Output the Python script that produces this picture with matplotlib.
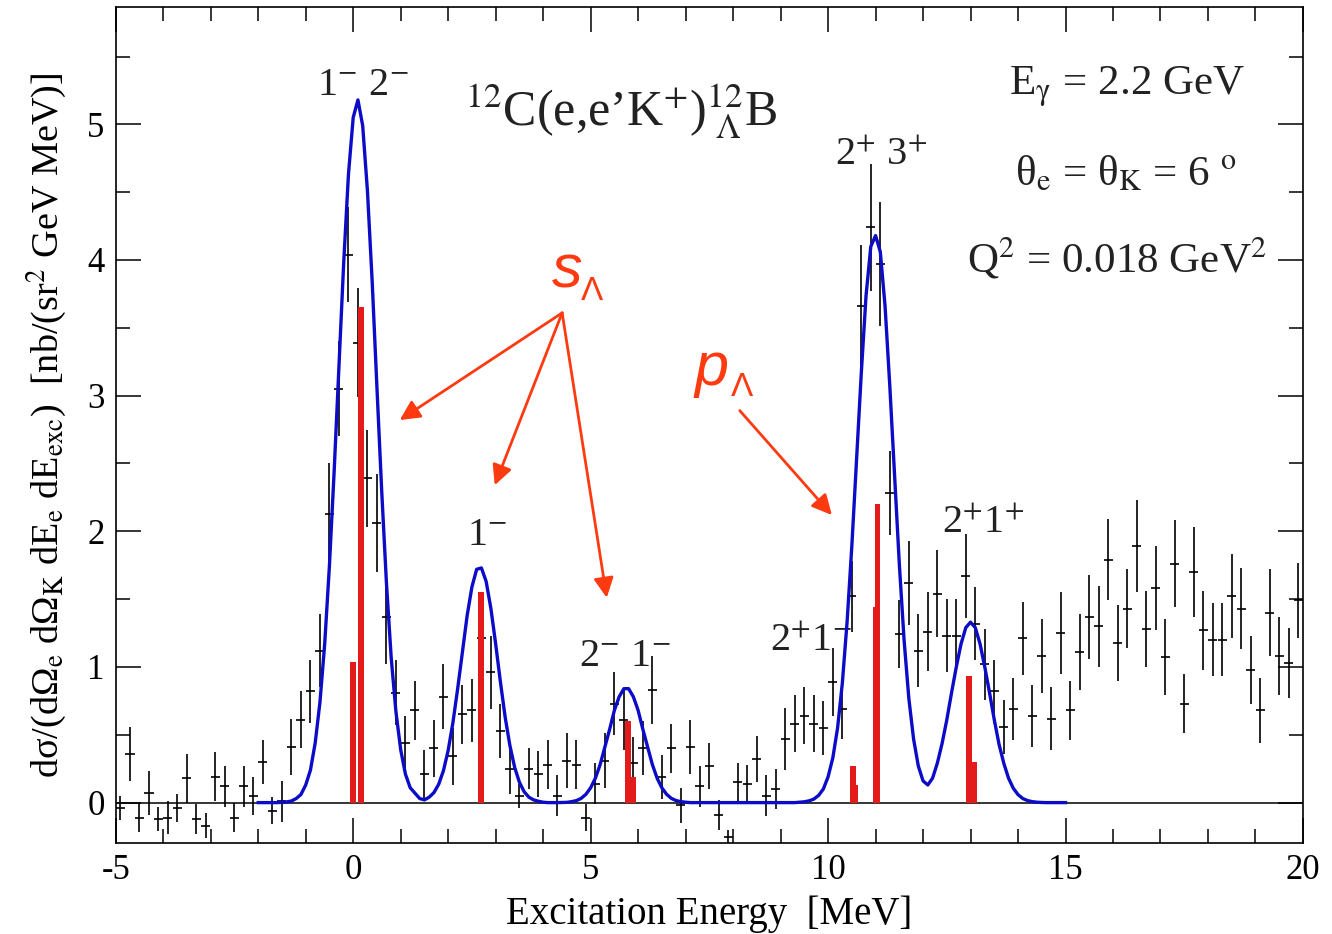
import matplotlib
matplotlib.use("Agg")
import matplotlib.pyplot as plt

plt.rcParams['font.family'] = ['Liberation Serif', 'DejaVu Serif']
plt.rcParams['mathtext.fontset'] = 'stix'
plt.rcParams['axes.unicode_minus'] = False

# ---------------- data ----------------
data_x = [-4.9, -4.7, -4.5, -4.3, -4.1, -3.9, -3.7, -3.5, -3.3, -3.1,
          -2.9, -2.7, -2.5, -2.3, -2.1, -1.9, -1.7, -1.5, -1.3, -1.1,
          -0.9, -0.7, -0.5, -0.3, -0.1, 0.1, 0.3, 0.5, 0.7, 0.9,
          1.1, 1.3, 1.5, 1.7, 1.9, 2.1, 2.3, 2.5, 2.7, 2.9,
          3.1, 3.3, 3.5, 3.7, 3.9, 4.1, 4.3, 4.5, 4.7, 4.9,
          5.1, 5.3, 5.5, 5.7, 5.9, 6.1, 6.3, 6.5, 6.7, 6.9,
          7.1, 7.3, 7.5, 7.7, 7.9, 8.1, 8.3, 8.5, 8.7, 8.9,
          9.1, 9.3, 9.5, 9.7, 9.9, 10.1, 10.3, 10.5, 10.7, 10.9,
          11.1, 11.3, 11.5, 11.7, 11.9, 12.1, 12.3, 12.5, 12.7, 12.9,
          13.1, 13.3, 13.5, 13.7, 13.9, 14.1, 14.3, 14.5, 14.7, 14.9,
          15.1, 15.3, 15.5, 15.7, 15.9, 16.1, 16.3, 16.5, 16.7, 16.9,
          17.1, 17.3, 17.5, 17.7, 17.9, 18.1, 18.3, 18.5, 18.7, 18.9,
          19.1, 19.3, 19.5, 19.7, 19.9]
data_y = [-0.04, 0.36, -0.11, 0.07, -0.12, -0.11, -0.04, 0.18, -0.12, -0.17,
          0.19, 0.12, -0.11, 0.12, 0.05, 0.30, -0.06, 0.01, 0.41, 0.61,
          0.82, 1.12, 2.13, 3.05, 4.04, 3.39, 2.39, 2.06, 1.37, 0.81,
          0.44, 0.68, 0.21, 0.40, 0.78, 0.34, 0.65, 0.68, 1.21, 0.96,
          0.53, 0.25, 0.05, 0.25, 0.21, 0.28, 0.05, 0.31, 0.28, -0.11,
          0.14, 0.31, 0.73, 0.61, 0.29, 0.40, 0.83, 0.19, 0.40, -0.02,
          0.41, 0.12, 0.27, -0.09, -0.25, 0.15, 0.14, 0.32, 0.05, 0.10,
          0.47, 0.58, 0.64, 0.58, 0.55, 0.89, 0.69, 1.52, 3.66, 4.24,
          3.97, 2.28, 1.24, 1.62, 1.12, 1.26, 1.54, 1.23, 1.23, 1.67,
          1.32, 1.02, 0.82, 0.56, 0.69, 1.21, 0.64, 1.08, 0.62, 1.25,
          0.68, 1.11, 1.37, 1.30, 1.79, 1.18, 1.43, 1.89, 1.28, 1.58,
          1.07, 1.76, 0.73, 1.70, 1.27, 1.20, 1.20, 1.52, 1.43, 0.98,
          0.68, 1.40, 1.08, 1.03, 1.49]
data_err = [0.09, 0.20, 0.11, 0.16, 0.09, 0.12, 0.10, 0.18, 0.11, 0.09,
            0.18, 0.15, 0.11, 0.15, 0.14, 0.16, 0.10, 0.15, 0.21, 0.21,
            0.23, 0.27, 0.37, 0.35, 0.35, 0.40, 0.36, 0.36, 0.35, 0.24,
            0.20, 0.22, 0.18, 0.21, 0.24, 0.21, 0.22, 0.23, 0.27, 0.27,
            0.20, 0.19, 0.09, 0.15, 0.17, 0.18, 0.15, 0.20, 0.18, 0.10,
            0.15, 0.20, 0.23, 0.22, 0.19, 0.20, 0.25, 0.16, 0.18, 0.13,
            0.20, 0.15, 0.17, 0.11, 0.05, 0.14, 0.14, 0.17, 0.15, 0.15,
            0.23, 0.21, 0.21, 0.21, 0.20, 0.25, 0.22, 0.26, 0.45, 0.47,
            0.46, 0.31, 0.25, 0.31, 0.27, 0.29, 0.32, 0.27, 0.27, 0.31,
            0.27, 0.26, 0.23, 0.20, 0.23, 0.27, 0.23, 0.27, 0.23, 0.30,
            0.22, 0.28, 0.31, 0.30, 0.30, 0.28, 0.29, 0.34, 0.28, 0.31,
            0.28, 0.32, 0.22, 0.33, 0.29, 0.27, 0.27, 0.31, 0.30, 0.25,
            0.24, 0.32, 0.29, 0.26, 0.28]

curve_x = [-2.0, -1.9, -1.8, -1.7, -1.6, -1.5, -1.4, -1.3, -1.2, -1.1,
           -1.0, -0.9, -0.8, -0.7, -0.6, -0.5, -0.4, -0.3, -0.2, -0.1,
           0.0, 0.1, 0.2, 0.3, 0.4, 0.5, 0.6, 0.7, 0.8, 0.9,
           1.0, 1.1, 1.2, 1.3, 1.4, 1.5, 1.6, 1.7, 1.8, 1.9,
           2.0, 2.1, 2.2, 2.3, 2.4, 2.5, 2.6, 2.7, 2.8, 2.9,
           3.0, 3.1, 3.2, 3.3, 3.4, 3.5, 3.6, 3.7, 3.8, 3.9,
           4.0, 4.1, 4.2, 4.3, 4.4, 4.5, 4.6, 4.7, 4.8, 4.9,
           5.0, 5.1, 5.2, 5.3, 5.4, 5.5, 5.6, 5.7, 5.8, 5.9,
           6.0, 6.1, 6.2, 6.3, 6.4, 6.5, 6.6, 6.7, 6.8, 6.9,
           7.0, 7.1, 7.2, 7.3, 7.4, 7.5, 7.6, 7.7, 7.8, 7.9,
           8.0, 8.1, 8.2, 8.3, 8.4, 8.5, 8.6, 8.7, 8.8, 8.9,
           9.0, 9.1, 9.2, 9.3, 9.4, 9.5, 9.6, 9.7, 9.8, 9.9,
           10.0, 10.1, 10.2, 10.3, 10.4, 10.5, 10.6, 10.7, 10.8, 10.9,
           11.0, 11.1, 11.2, 11.3, 11.4, 11.5, 11.6, 11.7, 11.8, 11.9,
           12.0, 12.1, 12.2, 12.3, 12.4, 12.5, 12.6, 12.7, 12.8, 12.9,
           13.0, 13.1, 13.2, 13.3, 13.4, 13.5, 13.6, 13.7, 13.8, 13.9,
           14.0, 14.1, 14.2, 14.3, 14.4, 14.5, 14.6, 14.7, 14.8, 14.9,
           15.0]
curve_y = [0, 0, 0, 0, 0, 0.002, 0.005, 0.012, 0.03, 0.06,
           0.13, 0.24, 0.44, 0.74, 1.17, 1.75, 2.45, 3.22, 3.98, 4.63,
           5.05, 5.18, 4.99, 4.51, 3.84, 3.06, 2.30, 1.62, 1.07, 0.67,
           0.39, 0.21, 0.11, 0.07, 0.03, 0.02, 0.04, 0.074, 0.135, 0.235,
           0.385, 0.59, 0.84, 1.11, 1.38, 1.59, 1.72, 1.73, 1.63, 1.43,
           1.17, 0.89, 0.63, 0.42, 0.26, 0.15, 0.08, 0.04, 0.02, 0.01,
           0.003, 0, 0, 0, 0.001, 0.002, 0.007, 0.015, 0.031, 0.061,
           0.109, 0.18, 0.28, 0.41, 0.54, 0.68, 0.78, 0.84, 0.84, 0.78,
           0.68, 0.54, 0.41, 0.28, 0.18, 0.109, 0.061, 0.031, 0.015, 0.007,
           0.003, 0, 0, 0, 0, 0, 0, 0, 0, 0,
           0, 0, 0, 0, 0, 0, 0, 0, 0, 0,
           0, 0, 0, 0, 0.003, 0.006, 0.013, 0.026, 0.053, 0.10,
           0.19, 0.33, 0.55, 0.88, 1.33, 1.89, 2.53, 3.17, 3.74, 4.10,
           4.18, 4.06, 3.66, 3.07, 2.41, 1.76, 1.20, 0.77, 0.47, 0.27,
           0.16, 0.13, 0.18, 0.29, 0.435, 0.61, 0.81, 1.00, 1.17, 1.29,
           1.33, 1.29, 1.17, 1.00, 0.81, 0.61, 0.43, 0.29, 0.18, 0.106,
           0.059, 0.030, 0.015, 0.007, 0.003, 0.001, 0, 0, 0, 0,
           0]

line_x = [0.00, 0.16, 2.69, 5.78, 5.89, 10.53, 10.61, 10.99, 11.04, 12.97, 13.08]
line_h = [1.04, 3.65, 1.55, 0.60, 0.19, 0.27, 0.13, 1.44, 2.20, 0.93, 0.30]
line_w = [0.12, 0.12, 0.12, 0.12, 0.12, 0.12, 0.06, 0.10, 0.10, 0.12, 0.12]

x_ticks = [-5, 0, 5, 10, 15, 20]
y_ticks = [0, 1, 2, 3, 4, 5]

# ---------------- figure ----------------
fig = plt.figure(figsize=(13.32, 9.34), dpi=100)
ax = fig.add_axes([0.0869, 0.0971, 0.8913, 0.8954])
ax.set_xlim(-5, 20)
ax.set_ylim(-0.30, 5.865)

ax.axhline(0, color='black', lw=1.1, zorder=1)
ax.errorbar(data_x, data_y, yerr=data_err, xerr=0.095, fmt='none',
            ecolor='black', elinewidth=1.2, capsize=0, zorder=2)
ax.bar(line_x, line_h, width=line_w, color='#e31b1b', linewidth=0, zorder=3)
ax.plot(curve_x, curve_y, color='#0b0bc8', lw=2.4, zorder=4)

ax.set_xticks(x_ticks)
ax.set_yticks(y_ticks)
ax.set_xticks([v for v in range(-5, 21)], minor=True)
ax.set_yticks([0.5 * i for i in range(0, 12)], minor=True)
ax.tick_params(which='both', direction='in', top=True, right=True,
               width=1.1, labelsize=25, colors='black')
ax.tick_params(which='major', length=18, pad=8)
ax.tick_params(which='minor', length=10)
for s in ax.spines.values():
    s.set_linewidth(1.2)

ax.set_xlabel('Excitation Energy  [MeV]', fontsize=28, labelpad=6)
ax.set_ylabel("dσ/(dΩ$_{\\rm e}$ dΩ$_{\\rm K}$ dE$_{\\rm e}$ dE$_{\\rm exc}$)  "
              "[nb/(sr$^{2}$ GeV MeV)]", fontsize=27.5, labelpad=14)

# state labels
lab_kw = dict(fontsize=29, ha='center', va='baseline', color='#222222')
ax.text(0.2, 5.216, r"1$^{-}$ 2$^{-}$", **lab_kw)
ax.text(2.81, 1.90, r"1$^{-}$", **lab_kw)
ax.text(5.72, 1.005, r"2$^{-}$ 1$^{-}$", **lab_kw)
ax.text(9.65, 1.118, r"2$^{+}$1$^{-}$", **lab_kw)
ax.text(11.13, 4.70, r"2$^{+}$ 3$^{+}$", **lab_kw)
ax.text(13.26, 1.984, r"2$^{+}$1$^{+}$", **lab_kw)

ax.text(5.64, 4.99, r"$^{12}$C(e,e’K$^{+}$)$^{12}_{\ \Lambda}$B", fontsize=36,
        ha='center', va='baseline', color='#222222')

rt_kw = dict(fontsize=31, ha='center', va='baseline', color='#222222')
ax.text(16.29, 5.216, "E$_{\\mathrm{γ}}$ = 2.2 GeV", **rt_kw)
ax.text(16.27, 4.55, "θ$_{\\rm e}$ = θ$_{\\rm K}$ = 6 $^{\\rm o}$", **rt_kw)
ax.text(16.08, 3.91, r"Q$^{2}$ = 0.018 GeV$^{2}$", **rt_kw)

# red annotations
rc = '#ff3a10'
ax.text(4.18, 3.80, 's', fontsize=44, fontstyle='italic', family='Liberation Sans',
        color=rc, ha='left', va='baseline')
ax.text(4.80, 3.705, 'Λ', fontsize=24, family='Liberation Sans',
        color=rc, ha='left', va='baseline')
ax.text(7.19, 3.08, 'p', fontsize=44, fontstyle='italic', family='Liberation Sans',
        color=rc, ha='left', va='baseline')
ax.text(7.95, 3.00, 'Λ', fontsize=24, family='Liberation Sans',
        color=rc, ha='left', va='baseline')

arr = dict(arrowstyle='-|>', color=rc, lw=2.0, mutation_scale=30, shrinkA=0, shrinkB=0)
s_start = (4.40, 3.61)
for end in [(0.98, 2.82), (2.98, 2.34), (5.34, 1.51)]:
    ax.annotate('', xy=end, xytext=s_start, arrowprops=arr)
ax.annotate('', xy=(10.08, 2.12), xytext=(8.14, 2.89), arrowprops=arr)

fig.savefig('out.png', dpi=100)
